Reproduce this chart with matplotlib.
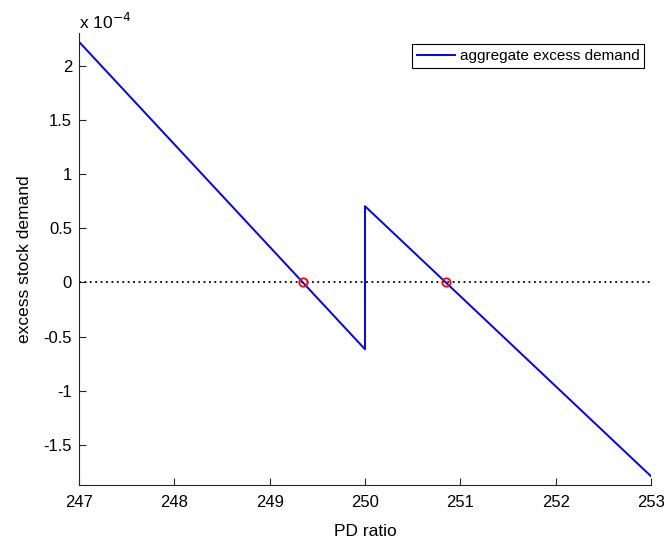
import matplotlib
matplotlib.use("Agg")
import matplotlib.pyplot as plt
import numpy as np

plt.rcParams['font.family'] = ['Liberation Sans', 'DejaVu Sans']

# data (in units of 1e-4)
pd_left = [247.0, 250.0]
dem_left = [2.224, -0.617]
pd_right = [250.0, 253.0]
dem_right = [0.705, -1.79]
eq_pd = [249.35, 250.85]
eq_dem = [0.0, 0.0]
xticks = [247, 248, 249, 250, 251, 252, 253]
yticks = [-1.5, -1, -0.5, 0, 0.5, 1, 1.5, 2]
ytick_labels = ['-1.5', '-1', '-0.5', '0', '0.5', '1', '1.5', '2']

fig = plt.figure(figsize=(6.64, 5.39), dpi=100)
ax = fig.add_axes([79/664, 1-485/539, (651-79)/664, (485-33)/539])

x = pd_left + pd_right
y = dem_left + dem_right
ax.plot(x, y, color='#0000ff', lw=1.4, label='aggregate excess demand')
ax.axhline(0, color='black', ls=(0, (1, 2)), lw=1.3)
ax.plot(eq_pd, eq_dem, 'o', mfc='none', mec='red', ms=6, mew=1.3)

ax.set_xlim(247, 253)
ax.set_ylim(-1.871, 2.305)
ax.set_xticks(xticks)
ax.set_yticks(yticks)
ax.set_yticklabels(ytick_labels)
for s in ['top', 'right']:
    ax.spines[s].set_visible(False)
for s in ['left', 'bottom']:
    ax.spines[s].set_color('#262626')
    ax.spines[s].set_linewidth(0.8)
ax.tick_params(direction='in', length=5, width=0.8, color='#262626', labelsize=12)
ax.tick_params(axis='x', pad=7)
ax.tick_params(axis='y', pad=5)

ax.set_xlabel('PD ratio', fontsize=12.5)
ax.set_ylabel('excess stock demand', fontsize=12.5)
ax.xaxis.set_label_coords(0.5, -(531.7-485)/452, transform=ax.transAxes)
ax.yaxis.set_label_coords(-(79-25)/572, 0.5, transform=ax.transAxes)
ax.xaxis.label.set_va('center')
ax.yaxis.label.set_va('center')
ax.text(0.0, (485-22)/452, r'x 10$^{-4}$', transform=ax.transAxes, fontsize=12.5, ha='left', va='center')

leg = ax.legend(loc='upper right', bbox_to_anchor=(0.9955, 0.985), fontsize=11,
                frameon=True, fancybox=False, edgecolor='black', framealpha=1,
                handlelength=2.5, borderpad=0.3, handletextpad=0.3, borderaxespad=0.3)
leg.get_frame().set_linewidth(0.8)

fig.savefig('out.png', dpi=100)
